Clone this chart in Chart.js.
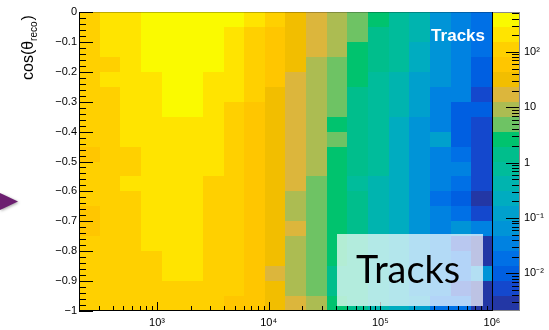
<!DOCTYPE html>
<html><head><meta charset="utf-8">
<script src="https://cdn.jsdelivr.net/npm/chart.js@4.4.0/dist/chart.umd.min.js"></script>
<style>html,body{margin:0;padding:0;background:#fff;}canvas{display:block;}</style>
</head><body>
<canvas id="c" width="549" height="330"></canvas>
<script>
// ---- data ----
// energy bin edges (log spaced, 20 bins)
const energyEdges = [200, 306, 469, 718, 1099, 1682, 2575, 3942, 6034, 9236, 14138,
  21641, 33127, 50707, 77619, 118813, 181868, 278386, 426130, 652286, 1000000];
// cos(theta_reco) bin edges, from top (0) to bottom (-1)
const cosEdges = [0, -0.05, -0.1, -0.15, -0.2, -0.25, -0.3, -0.35, -0.4, -0.45, -0.5,
  -0.55, -0.6, -0.65, -0.7, -0.75, -0.8, -0.85, -0.9, -0.95, -1];
// track counts, one row per cos bin (top row first), one value per energy bin
const trackCounts = [
 [110,210,210,390,390,390,390,390,210,110,32,17,9.3,5.0,2.7,0.77,0.41,0.064,0.034,0.018],
 [110,210,210,390,390,390,390,210,110,60,32,17,9.3,5.0,1.4,0.77,0.41,0.064,0.034,0.018],
 [110,210,210,390,390,390,390,210,110,60,32,17,9.3,2.7,1.4,0.77,0.22,0.064,0.034,0.018],
 [110,110,210,390,390,390,390,210,110,60,32,9.3,5.0,2.7,1.4,0.77,0.22,0.064,0.034,0.0099],
 [110,210,210,210,390,390,210,210,110,60,17,9.3,5.0,2.7,0.77,0.41,0.12,0.064,0.034,0.0099],
 [110,110,210,210,390,390,210,210,110,32,17,9.3,5.0,1.4,0.77,0.41,0.12,0.034,0.034,0.0053],
 [110,110,210,210,390,390,210,110,60,32,17,9.3,5.0,1.4,0.77,0.41,0.12,0.034,0.0099,0.0099],
 [110,110,210,210,210,210,210,110,60,32,17,9.3,2.7,1.4,0.77,0.22,0.064,0.034,0.0099,0.0053],
 [110,110,210,210,210,210,210,110,60,32,17,9.3,5.0,1.4,0.77,0.22,0.064,0.12,0.0099,0.0053],
 [60,110,110,210,210,210,210,110,60,32,17,9.3,2.7,1.4,0.77,0.22,0.064,0.034,0.018,0.0053],
 [110,110,110,210,210,210,210,110,60,32,17,9.3,2.7,1.4,0.77,0.22,0.064,0.034,0.034,0.0053],
 [110,110,210,210,210,210,110,110,60,32,17,5.0,2.7,0.77,0.41,0.22,0.064,0.034,0.018,0.0053],
 [110,110,110,210,210,210,110,110,60,32,9.3,5.0,2.7,1.4,0.41,0.22,0.064,0.018,0.0099,0.0029],
 [60,110,110,210,210,210,110,110,60,32,9.3,5.0,2.7,1.4,0.41,0.22,0.064,0.034,0.018,0.0053],
 [60,110,110,210,210,210,110,110,60,32,17,5.0,2.7,1.4,0.41,0.22,0.064,0.034,0.064,0.034],
 [110,110,110,210,210,210,110,110,60,32,9.3,5.0,2.7,1.4,0.41,0.22,0.064,0.034,0.0053,0.0029],
 [110,110,110,110,210,210,110,110,60,32,9.3,5.0,2.7,1.4,0.41,0.22,0.064,0.034,0.018,0.0029],
 [110,110,110,110,210,210,110,110,60,17,9.3,5.0,1.4,1.4,0.41,0.22,0.064,0.034,0.018,0.064],
 [110,110,110,110,110,110,110,110,60,32,9.3,5.0,1.4,1.4,0.41,0.22,0.064,0.034,0.0053,0.0029],
 [110,110,110,110,110,110,110,60,60,32,17,9.3,2.7,1.4,0.41,0.22,0.12,0.018,0.018,0.0029]
];
// axis ticks & labels
const xTickValues = [1e3, 1e4, 1e5, 1e6];
const xTickLabels = ['10\u00B3', '10\u2074', '10\u2075', '10\u2076'];
const yTickValues = [-1, -0.9, -0.8, -0.7, -0.6, -0.5, -0.4, -0.3, -0.2, -0.1, 0];
const yTickLabels = ['\u22121', '\u22120.9', '\u22120.8', '\u22120.7', '\u22120.6', '\u22120.5',
  '\u22120.4', '\u22120.3', '\u22120.2', '\u22120.1', '0'];
const zTickValues = [0.01, 0.1, 1, 10, 100];
const zTickLabels = ['10\u207B\u00B2', '10\u207B\u00B9', '1', '10', '10\u00B2'];
// colour scale: 20 discrete levels, log10 range
const zLogMin = -2.679, zStep = 0.27;
const palette = ['#2337a5','#1448cd','#005fe1','#0070e6','#0082e1','#0094d7','#00a0cd','#00acc0',
  '#00b4af','#00bc9b','#00be8c','#00c36e','#6ec364','#acbc52','#dcb63c','#f2be00','#ffc600',
  '#ffd000','#ffe400','#fafa00'];

const zMin = Math.pow(10, zLogMin), zMax = Math.pow(10, zLogMin + 20 * zStep);
function colorFor(v) {
  let k = Math.floor((Math.log10(v) - zLogMin) / zStep);
  k = Math.max(0, Math.min(19, k));
  return palette[k];
}

const cells = [];
trackCounts.forEach((row, j) => row.forEach((v, i) => cells.push({
  x: Math.sqrt(energyEdges[i] * energyEdges[i + 1]),
  y: (cosEdges[j] + cosEdges[j + 1]) / 2, i, j, v })));

const FONT = "'Liberation Sans', Arial, Helvetica, sans-serif";

const heatPlugin = {
  id: 'heat',
  beforeDatasetsDraw(chart) {
    const { ctx, scales: { x, y } } = chart;
    ctx.save();
    cells.forEach(c => {
      const x0 = Math.round(x.getPixelForValue(energyEdges[c.i]));
      const x1 = Math.round(x.getPixelForValue(energyEdges[c.i + 1]));
      const y0 = Math.round(y.getPixelForValue(cosEdges[c.j]));
      const y1 = Math.round(y.getPixelForValue(cosEdges[c.j + 1]));
      ctx.fillStyle = colorFor(c.v);
      ctx.fillRect(x0, y0, x1 - x0, y1 - y0);
    });
    ctx.restore();
  },
  afterDatasetsDraw(chart) {
    const { ctx, chartArea: a, scales: { x, y, cb } } = chart;
    ctx.save();
    // colour bar
    const cbL = Math.round(a.right), cbR = cbL + 27;
    for (let k = 0; k < 20; k++) {
      const yTop = Math.round(cb.getPixelForValue(Math.pow(10, zLogMin + (k + 1) * zStep)));
      const yBot = Math.round(cb.getPixelForValue(Math.pow(10, zLogMin + k * zStep)));
      ctx.fillStyle = palette[k];
      ctx.fillRect(cbL, yTop, cbR - cbL, yBot - yTop);
    }
    ctx.strokeStyle = '#8a8a8a'; ctx.lineWidth = 1;
    ctx.strokeRect(cbL + 0.5, Math.round(a.top) + 0.5, cbR - cbL, Math.round(a.bottom) - Math.round(a.top) - 1);
    // colour bar ticks (on right edge, pointing inward)
    ctx.strokeStyle = '#000';
    ctx.beginPath();
    for (let e = -3; e <= 2; e++) {
      for (let m = 1; m <= 9; m++) {
        const v = m * Math.pow(10, e);
        if (v < zMin || v > zMax) continue;
        const py = Math.round(cb.getPixelForValue(v)) + 0.5;
        ctx.moveTo(cbR, py); ctx.lineTo(cbR - (m === 1 ? 13 : 7), py);
      }
    }
    ctx.stroke();

    // frame
    const L = Math.round(a.left), R = Math.round(a.right), T = Math.round(a.top), B = Math.round(a.bottom);
    ctx.strokeStyle = 'rgba(0,0,0,0.25)';
    ctx.beginPath(); ctx.moveTo(L, T + 0.5); ctx.lineTo(R, T + 0.5); ctx.stroke();
    ctx.strokeStyle = '#000';
    ctx.beginPath();
    ctx.moveTo(L + 0.5, T); ctx.lineTo(L + 0.5, B);
    ctx.moveTo(L, B - 0.5); ctx.lineTo(R + 1, B - 0.5);
    ctx.moveTo(R + 0.5, T); ctx.lineTo(R + 0.5, B);
    // x ticks
    for (let e = 2; e <= 6; e++) {
      for (let m = 1; m <= 9; m++) {
        const v = m * Math.pow(10, e);
        if (v < energyEdges[0] || v > energyEdges[20]) continue;
        const px = Math.round(x.getPixelForValue(v)) + 0.5;
        ctx.moveTo(px, B); ctx.lineTo(px, B - (m === 1 ? 9 : 5));
      }
    }
    // y ticks
    for (let i = 0; i <= 50; i++) {
      const v = -1 + i * 0.02;
      const py = Math.round(y.getPixelForValue(v)) + 0.5;
      ctx.moveTo(L, py); ctx.lineTo(L + (i % 5 === 0 ? 14 : 7), py);
    }
    ctx.stroke();

    // white label in plot
    ctx.fillStyle = '#fff';
    ctx.font = 'bold 17px ' + FONT;
    ctx.textAlign = 'right'; ctx.textBaseline = 'alphabetic';
    ctx.fillText('Tracks', 485, 41);

    // overlay box
    ctx.fillStyle = 'rgba(255,255,255,0.70)';
    ctx.fillRect(337, 234, 146, 72);
    ctx.fillStyle = '#000';
    ctx.textAlign = 'left';
    ctx.font = '36px Lato, sans-serif';
    const w = ctx.measureText('Tracks').width;
    const fs = 36 * 104 / w;
    ctx.font = fs.toFixed(1) + 'px Lato, sans-serif';
    ctx.fillText('Tracks', 356, 283);

    // y axis title  cos(θ_reco)
    ctx.translate(33, 80);
    ctx.rotate(-Math.PI / 2);
    ctx.textAlign = 'left'; ctx.textBaseline = 'alphabetic';
    ctx.font = '16px ' + FONT;
    let xx = 0;
    ctx.fillText('cos(\u03B8', xx, 0); xx += ctx.measureText('cos(\u03B8').width;
    ctx.font = '10px ' + FONT;
    ctx.fillText('reco', xx, 4); xx += ctx.measureText('reco').width;
    ctx.font = '16px ' + FONT;
    ctx.fillText(')', xx + 1, 0);
    ctx.setTransform(1, 0, 0, 1, 0, 0);

    // purple arrow (slide fragment)
    ctx.shadowColor = 'rgba(0,0,0,0.35)'; ctx.shadowBlur = 3; ctx.shadowOffsetX = 1; ctx.shadowOffsetY = 1;
    ctx.fillStyle = '#6c1f70';
    ctx.beginPath(); ctx.moveTo(0, 193); ctx.lineTo(18, 201.5); ctx.lineTo(0, 210); ctx.closePath(); ctx.fill();
    ctx.restore();
  }
};

new Chart(document.getElementById('c'), {
  type: 'scatter',
  data: { datasets: [{ label: 'Tracks', data: cells, pointRadius: 0, pointHoverRadius: 0,
    xAxisID: 'x', yAxisID: 'y' }] },
  options: {
    responsive: false, devicePixelRatio: 1, animation: false,
    layout: { padding: { top: 12, left: 0, right: 0, bottom: 0 } },
    plugins: { legend: { display: false }, tooltip: { enabled: false } },
    events: [],
    scales: {
      x: { type: 'logarithmic', position: 'bottom', min: energyEdges[0], max: energyEdges[20],
        afterBuildTicks: s => { s.ticks = xTickValues.map(v => ({ value: v })); },
        afterFit: s => { s.height = 19; },
        grid: { display: false, drawTicks: true, tickLength: 3 }, border: { display: false },
        ticks: { autoSkip: false, maxRotation: 0, minRotation: 0, padding: 2, color: '#000',
          font: { family: FONT, size: 11 }, callback: (v, i) => xTickLabels[i] } },
      y: { type: 'linear', position: 'left', min: -1, max: 0,
        afterBuildTicks: s => { s.ticks = yTickValues.map(v => ({ value: v })); },
        afterFit: s => { s.width = 79; },
        grid: { display: false, drawTicks: false }, border: { display: false },
        ticks: { autoSkip: false, padding: 2, color: '#000',
          font: { family: FONT, size: 11 }, callback: (v, i) => yTickLabels[i] } },
      cb: { axis: 'y', type: 'logarithmic', position: 'right', min: zMin, max: zMax,
        afterBuildTicks: s => { s.ticks = zTickValues.map(v => ({ value: v })); },
        afterFit: s => { s.width = 57; },
        grid: { display: false, drawTicks: true, tickLength: 30 }, border: { display: false },
        ticks: { autoSkip: false, padding: 2, color: '#000',
          font: { family: FONT, size: 11 }, callback: (v, i) => zTickLabels[i] } }
    }
  },
  plugins: [heatPlugin]
});
</script>
</body></html>
